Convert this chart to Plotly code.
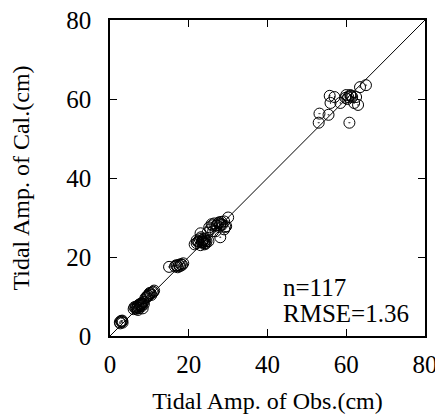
import plotly.graph_objects as go

# Beobachtete und berechnete Tidenamplituden (cm)
obs = [
    2.5, 2.8, 3.0, 3.2, 2.6, 3.1,
    6.0, 6.5, 7.0, 7.2, 7.5, 7.8, 8.0, 8.2, 8.5, 7.0, 6.8, 7.6, 8.3, 8.0,
    7.4, 6.2, 7.9, 8.6, 7.1, 6.6,
    9.0, 9.5, 10.0, 10.3, 10.8, 11.0, 9.8, 10.5, 9.3, 11.2, 10.1, 9.6,
    15.0, 16.5, 17.0, 17.5, 18.0, 18.3, 17.2, 16.8, 18.6, 17.8,
    21.5, 22.0, 22.5, 23.0, 23.0, 23.5, 23.8, 24.0, 24.2, 24.5, 22.8, 23.3,
    24.0, 23.6, 25.0, 25.5, 22.4, 23.9, 24.3, 23.1, 24.8, 25.2, 26.0, 22.0, 23.4,
    25.8, 26.2, 26.5, 27.0, 27.5, 28.0, 28.0, 28.5, 29.0, 29.0, 29.5, 30.0, 27.8,
    26.8, 28.3, 29.3, 27.2, 28.0,
    53.0, 53.2, 55.5, 56.0, 57.0, 55.8, 58.5, 60.0, 60.5, 61.0, 61.5, 60.3,
    62.0, 63.0, 60.8, 63.5, 65.0, 61.2, 59.8, 62.5,
]
cal = [
    3.5, 3.8, 3.6, 3.4, 3.2, 3.9,
    6.8, 7.0, 7.5, 7.8, 8.0, 8.0, 7.5, 8.2, 8.6, 7.2, 6.9, 7.6, 7.0, 8.3,
    7.1, 7.3, 7.9, 8.1, 6.6, 7.4,
    9.6, 10.0, 10.6, 10.8, 11.0, 11.2, 10.2, 10.4, 9.9, 11.5, 10.9, 10.3,
    17.5, 17.6, 17.8, 18.0, 18.2, 18.0, 17.4, 17.9, 18.4, 17.7,
    23.2, 23.5, 24.0, 23.0, 26.0, 24.0, 23.8, 23.5, 24.2, 24.0, 24.5, 23.9,
    23.2, 24.3, 24.0, 27.0, 23.8, 24.6, 23.4, 25.0, 26.2, 27.5, 28.0, 24.2, 23.7,
    28.3, 26.5, 28.5, 28.0, 28.6, 28.0, 25.0, 28.2, 27.0, 29.0, 27.8, 30.0, 28.8,
    26.5, 28.9, 27.6, 28.0, 28.4,
    54.0, 56.3, 56.0, 59.0, 60.5, 60.8, 59.0, 61.0, 60.5, 61.0, 60.5, 60.0,
    59.0, 58.5, 54.0, 63.0, 63.5, 60.8, 60.3, 60.5,
]
diag = [0, 80]
tick_vals = [0, 20, 40, 60, 80]
stat_lines = ["n=117", "RMSE=1.36"]

font_serif = "Liberation Serif, Times New Roman, serif"
fs = 25
fs_title = 24

fig = go.Figure()

# 1:1 Linie
fig.add_trace(go.Scatter(
    x=diag, y=diag, mode='lines',
    line=dict(color='black', width=1),
    hoverinfo='skip', showlegend=False
))

# Messpunkte
fig.add_trace(go.Scatter(
    x=obs, y=cal, mode='markers',
    marker=dict(symbol='circle-open-dot', size=11, color='black',
                line=dict(color='black', width=1)),
    showlegend=False
))

axis_style = dict(
    range=[0, 80], tickvals=tick_vals, ticks='inside', ticklen=7,
    tickwidth=1, tickcolor='black', showline=True, linecolor='black',
    linewidth=1.5, mirror='ticks', showgrid=False, zeroline=False,
    automargin=False, ticklabeloverflow='allow',
    tickfont=dict(family=font_serif, size=fs, color='black'),
)

# Seite hat 8px Rand im Body -> Ränder entsprechend kleiner
fig.update_layout(
    width=435, height=406,
    margin=dict(l=102, r=18, t=12, b=78),
    plot_bgcolor='white', paper_bgcolor='white',
    xaxis=dict(axis_style, ticklabelstandoff=5,
               title=dict(text='Tidal Amp. of Obs.(cm)', standoff=16,
                          font=dict(family=font_serif, size=fs_title, color='black'))),
    yaxis=dict(axis_style, ticklabelstandoff=12,
               title=dict(text='Tidal Amp. of Cal.(cm)', standoff=30,
                          font=dict(family=font_serif, size=fs_title, color='black'))),
    annotations=[
        dict(x=43.4, y=12.4, xref='x', yref='y', text=stat_lines[0],
             showarrow=False, xanchor='left', yanchor='middle',
             font=dict(family=font_serif, size=fs, color='black')),
        dict(x=43.4, y=5.6, xref='x', yref='y', text=stat_lines[1],
             showarrow=False, xanchor='left', yanchor='middle',
             font=dict(family=font_serif, size=fs, color='black')),
    ],
)

fig.write_html("out.html")
